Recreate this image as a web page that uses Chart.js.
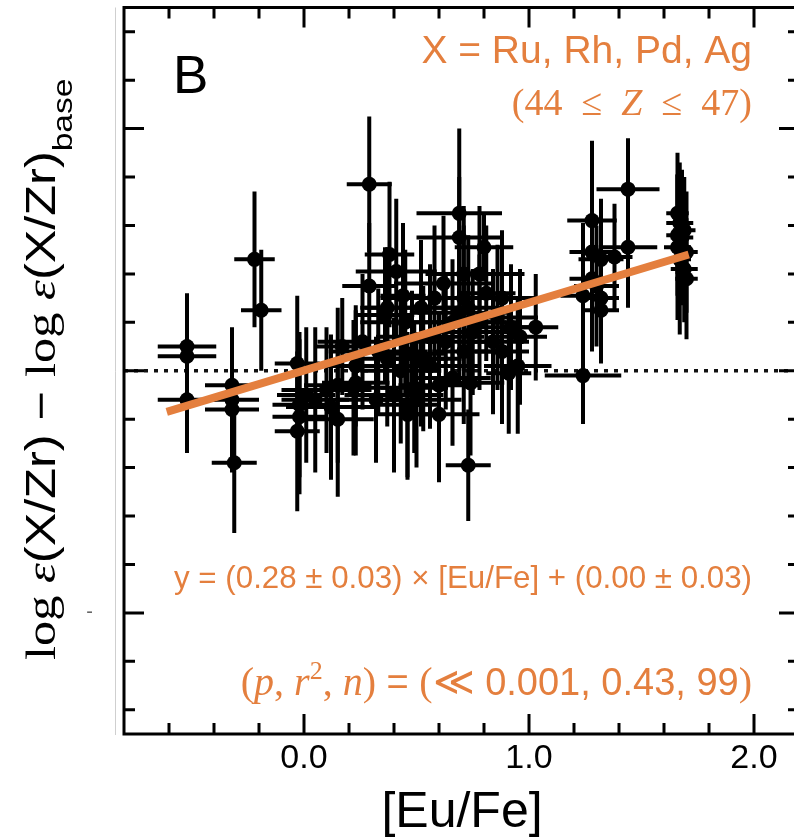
<!DOCTYPE html>
<html>
<head>
<meta charset="utf-8">
<script src="https://cdn.jsdelivr.net/npm/chart.js@4.4.1/dist/chart.umd.min.js"></script>
<style>
  html, body { margin:0; padding:0; background:#fff; overflow:hidden; }
  #wrap { position:relative; width:810px; height:837px; }
</style>
</head>
<body>
<div id="wrap"><canvas id="chart" width="810" height="837"></canvas></div>
<script>
/* ---- data ---- */
const euFe = [
  -0.52, -0.52, -0.52, -0.32, -0.32, -0.32, -0.31, -0.22, -0.19, -0.03,
  -0.02, -0.02, -0.03,  0.01,  0.17,  0.23,  0.23,  0.22,  0.15,  0.15,
   0.32,  0.37,  0.48,  0.52,  0.46,  0.49,  0.46,  0.29,  0.38,  0.29,
   0.44,  0.37,  0.36,  0.69,  0.69,  0.80,  0.71,  0.71,  0.81,  0.73,
   0.53,  0.71,  1.03,  0.96,  0.91,  0.88,  0.74,  0.66,  0.73,  1.44,
   1.28,  1.28,  1.44,  1.32,  1.38,  1.28,  1.24,  1.32,  1.32,  1.24,
   1.66,  1.67,  1.69,  1.66,  1.67,  1.69,  1.70,  1.68,  0.05,  0.10,
   0.40,  0.43,  0.50,  0.56,  0.60,  0.63,  0.66,  0.69,  0.75,  0.78,
   0.84,  0.86,  0.92,  0.95,  0.58,  0.62,  0.45,  0.52,  0.41,  0.26,
   0.33,  0.12,  0.60,  0.56,  1.30,  1.66,  1.70,  0.78,  0.88
];
const dLogEps = [
   0.10,  0.06, -0.12, -0.06, -0.12, -0.16, -0.38,  0.46,  0.25,  0.03,
  -0.14, -0.19, -0.25, -0.10,  0.10,  0.02, -0.05, -0.07, -0.06, -0.20,
  -0.12,  0.05,  0.07,  0.05, -0.14, -0.07, -0.18,  0.77,  0.48,  0.35,
   0.31,  0.26,  0.23,  0.65,  0.55,  0.51,  0.40,  0.30,  0.32,  0.26,
   0.05,  0.08,  0.18,  0.14, -0.01,  0.08, -0.05, -0.03, -0.39,  0.75,
   0.62,  0.49,  0.51,  0.46,  0.47,  0.38,  0.31,  0.30,  0.25, -0.02,
   0.65,  0.61,  0.58,  0.51,  0.46,  0.42,  0.38,  0.55, -0.12, -0.08,
  -0.10,  0.00, -0.12,  0.02, -0.06,  0.12,  0.20,  0.24,  0.16,  0.20,
   0.12,  0.22,  0.18,  0.02,  0.30,  0.36,  0.20,  0.26,  0.41,  0.12,
   0.08, -0.15, -0.18,  0.14,  0.35,  0.56,  0.49,  0.40,  0.30
];
const euFeErr = [
  0.13, 0.13, 0.13, 0.12, 0.12, 0.12, 0.10, 0.09, 0.09, 0.10,
  0.12, 0.12, 0.10, 0.13, 0.12, 0.13, 0.15, 0.15, 0.15, 0.16,
  0.17, 0.13, 0.15, 0.12, 0.14, 0.15, 0.14, 0.10, 0.11, 0.12,
  0.10, 0.12, 0.13, 0.19, 0.19, 0.13, 0.17, 0.16, 0.13, 0.15,
  0.17, 0.14, 0.10, 0.12, 0.10, 0.12, 0.15, 0.17, 0.10, 0.14,
  0.11, 0.10, 0.13, 0.10, 0.08, 0.10, 0.10, 0.08, 0.08, 0.17,
  0.05, 0.06, 0.05, 0.06, 0.05, 0.06, 0.05, 0.05, 0.15, 0.20,
  0.22, 0.18, 0.20, 0.22, 0.18, 0.20, 0.24, 0.22, 0.20, 0.18,
  0.16, 0.18, 0.14, 0.15, 0.24, 0.22, 0.20, 0.25, 0.18, 0.20,
  0.22, 0.20, 0.18, 0.24, 0.10, 0.05, 0.05, 0.20, 0.16
];
const dLogEpsErr = [
  0.22, 0.20, 0.22, 0.24, 0.22, 0.26, 0.29, 0.28, 0.25, 0.28,
  0.30, 0.32, 0.33, 0.28, 0.20, 0.25, 0.30, 0.28, 0.32, 0.32,
  0.26, 0.28, 0.26, 0.28, 0.30, 0.27, 0.27, 0.28, 0.30, 0.26,
  0.30, 0.25, 0.28, 0.35, 0.25, 0.14, 0.28, 0.30, 0.28, 0.30,
  0.30, 0.30, 0.22, 0.28, 0.25, 0.30, 0.30, 0.28, 0.23, 0.21,
  0.33, 0.30, 0.25, 0.25, 0.22, 0.30, 0.30, 0.22, 0.22, 0.20,
  0.25, 0.25, 0.22, 0.30, 0.31, 0.22, 0.25, 0.28, 0.30, 0.26,
  0.32, 0.30, 0.28, 0.26, 0.30, 0.28, 0.26, 0.30, 0.26, 0.28,
  0.30, 0.30, 0.26, 0.28, 0.30, 0.28, 0.30, 0.28, 0.30, 0.28,
  0.26, 0.30, 0.28, 0.30, 0.25, 0.25, 0.25, 0.28, 0.28
];

/* fit: y = 0.28 [Eu/Fe] + 0.00, drawn over the data range */
const fitX = [-0.61, 1.71];
const fitY = [-0.17, 0.48];
const zeroX = [-0.8, 2.2];
const zeroY = [0, 0];

/* axes */
const xRange = [-0.8, 2.2];
const yRange = [-1.5, 1.5];
const xTicks = [-0.6, -0.4, -0.2, 0, 0.2, 0.4, 0.6, 0.8, 1.0, 1.2, 1.4, 1.6, 1.8, 2.0];
const yTicks = [-1.4, -1.2, -1.0, -0.8, -0.6, -0.4, -0.2, 0, 0.2, 0.4, 0.6, 0.8, 1.0, 1.2, 1.4];
const xMajor = [0, 1, 2];
const yMajor = [-1, 0, 1];

const ORANGE = '#e47f3e';
const SANS = "'Liberation Sans', Arial, sans-serif";
const SERIF = "'Liberation Serif', 'Times New Roman', serif";

const isIn = (v, list) => list.some(m => Math.abs(m - v) < 1e-6);

function drawRuns(ctx, runs, x, y, align) {
  let total = 0;
  runs.forEach(r => { ctx.font = r.font; r.w = ctx.measureText(r.t).width; total += r.w; });
  let cx = align === 'right' ? x - total : (align === 'center' ? x - total / 2 : x);
  runs.forEach(r => { ctx.font = r.font; ctx.fillText(r.t, cx, y + (r.dy || 0)); cx += r.w; });
}

/* error bars for the scatter set */
const errorBars = {
  id: 'errorBars',
  afterDatasetDraw(chart, args) {
    if (args.index !== 1) return;
    const { ctx, scales: { x, y } } = chart;
    ctx.save();
    ctx.strokeStyle = '#000';
    ctx.lineWidth = 4;
    euFe.forEach((v, i) => {
      const px = x.getPixelForValue(v), py = y.getPixelForValue(dLogEps[i]);
      ctx.beginPath();
      ctx.moveTo(x.getPixelForValue(v - euFeErr[i]), py);
      ctx.lineTo(x.getPixelForValue(v + euFeErr[i]), py);
      ctx.moveTo(px, y.getPixelForValue(dLogEps[i] - dLogEpsErr[i]));
      ctx.lineTo(px, y.getPixelForValue(dLogEps[i] + dLogEpsErr[i]));
      ctx.stroke();
    });
    ctx.restore();
  }
};

/* frame, inward ticks, texts */
const frame = {
  id: 'frame',
  afterDraw(chart) {
    const { ctx, chartArea: a, scales: { x, y } } = chart;
    ctx.save();
    // faint line left of the frame
    ctx.strokeStyle = '#cfcfcf'; ctx.lineWidth = 1;
    ctx.beginPath(); ctx.moveTo(115.5, a.top); ctx.lineTo(115.5, a.bottom + 1); ctx.stroke();

    ctx.strokeStyle = '#000'; ctx.lineWidth = 3;
    ctx.beginPath();
    xTicks.forEach(v => {
      const px = x.getPixelForValue(v);
      const len = isIn(v, xMajor) ? 20 : 11;
      ctx.moveTo(px, a.bottom); ctx.lineTo(px, a.bottom - len);
      ctx.moveTo(px, a.top); ctx.lineTo(px, a.top + len);
    });
    yTicks.forEach(v => {
      const py = y.getPixelForValue(v);
      const len = isIn(v, yMajor) ? 20 : 11;
      ctx.moveTo(a.left, py); ctx.lineTo(a.left + len, py);
      ctx.moveTo(a.right, py); ctx.lineTo(a.right - len, py);
    });
    ctx.stroke();
    ctx.strokeRect(a.left, a.top, a.right - a.left, a.bottom - a.top);

    // stray minus of the hidden y label at -1
    ctx.fillStyle = '#666';
    ctx.font = `20px ${SANS}`;
    ctx.textAlign = 'right';
    ctx.textBaseline = 'middle';
    ctx.fillText('-', 93, y.getPixelForValue(-1));

    // panel letter
    ctx.fillStyle = '#000';
    ctx.textBaseline = 'alphabetic';
    ctx.font = `53px ${SANS}`;
    ctx.textAlign = 'left';
    ctx.fillText('B', 173, 93);

    // x title
    ctx.font = `50px ${SANS}`;
    ctx.textAlign = 'center';
    ctx.fillText('[Eu/Fe]', 462, 827);

    // y title (rotated)
    ctx.save();
    ctx.translate(55, 660);
    ctx.rotate(-Math.PI / 2);
    ctx.scale(1.2, 1);
    ctx.textAlign = 'left';
    drawRuns(ctx, [
      { t: 'log', font: `42px ${SERIF}` },
      { t: ' ', font: `42px ${SERIF}` },
      { t: 'ε', font: `italic 42px ${SERIF}` },
      { t: '(X/Zr)', font: `42px ${SANS}` },
      { t: ' − ', font: `42px ${SANS}` },
      { t: 'log', font: `42px ${SERIF}` },
      { t: ' ', font: `42px ${SERIF}` },
      { t: 'ε', font: `italic 42px ${SERIF}` },
      { t: '(X/Zr)', font: `42px ${SANS}` },
      { t: 'base', font: `28px ${SANS}`, dy: 17 }
    ], 0, 0, 'left');
    ctx.restore();

    // orange annotations
    ctx.fillStyle = ORANGE;
    ctx.textAlign = 'left';
    drawRuns(ctx, [{ t: 'X = Ru, Rh, Pd, Ag', font: `39px ${SANS}` }], 752, 63, 'right');
    drawRuns(ctx, [
      { t: '(44\u2002≤\u2002', font: `38px ${SERIF}` },
      { t: 'Z', font: `italic 38px ${SERIF}` },
      { t: '\u2002≤\u200247)', font: `38px ${SERIF}` }
    ], 752, 115, 'right');
    drawRuns(ctx, [{ t: 'y = (0.28 ± 0.03) × [Eu/Fe] + (0.00 ± 0.03)', font: `31.3px ${SANS}` }], 752, 588, 'right');
    drawRuns(ctx, [
      { t: '(', font: `40px ${SERIF}` },
      { t: 'p', font: `italic 40px ${SERIF}` },
      { t: ', ', font: `40px ${SERIF}` },
      { t: 'r', font: `italic 40px ${SERIF}` },
      { t: '2', font: `26px ${SERIF}`, dy: -16 },
      { t: ', ', font: `40px ${SERIF}` },
      { t: 'n', font: `italic 40px ${SERIF}` },
      { t: ')', font: `40px ${SERIF}` },
      { t: ' = ', font: `38px ${SANS}` },
      { t: '(≪', font: `40px ${SERIF}` },
      { t: ' 0.001, 0.43, 99', font: `38px ${SANS}` },
      { t: ')', font: `40px ${SERIF}` }
    ], 752, 695, 'right');
    ctx.restore();
  }
};

new Chart(document.getElementById('chart'), {
  type: 'scatter',
  data: {
    datasets: [
      {
        type: 'line',
        data: fitX.map((v, i) => ({ x: v, y: fitY[i] })),
        borderColor: ORANGE,
        borderWidth: 8,
        pointRadius: 0,
        order: 0
      },
      {
        data: euFe.map((v, i) => ({ x: v, y: dLogEps[i] })),
        backgroundColor: '#000',
        borderWidth: 0,
        pointRadius: 7.5,
        order: 1
      },
      {
        type: 'line',
        data: zeroX.map((v, i) => ({ x: v, y: zeroY[i] })),
        borderColor: '#111',
        borderWidth: 3.5,
        borderDash: [4, 6],
        pointRadius: 0,
        order: 2
      }
    ]
  },
  options: {
    responsive: false,
    animation: false,
    events: [],
    layout: { padding: { top: 5, right: 11, left: 0, bottom: 0 } },
    plugins: { legend: { display: false }, tooltip: { enabled: false } },
    scales: {
      x: {
        type: 'linear', min: xRange[0], max: xRange[1],
        grid: { display: false }, border: { display: false },
        afterFit: s => { s.height = 103; },
        ticks: {
          stepSize: 0.2, autoSkip: false, maxRotation: 0, padding: -4,
          color: '#000', font: { family: SANS, size: 34 },
          callback: v => isIn(v, xMajor) ? v.toFixed(1) : ''
        }
      },
      y: {
        type: 'linear', min: yRange[0], max: yRange[1],
        grid: { display: false }, border: { display: false },
        afterFit: s => { s.width = 124; },
        ticks: { display: false, padding: 0 }
      }
    }
  },
  plugins: [errorBars, frame]
});
</script>
</body>
</html>
